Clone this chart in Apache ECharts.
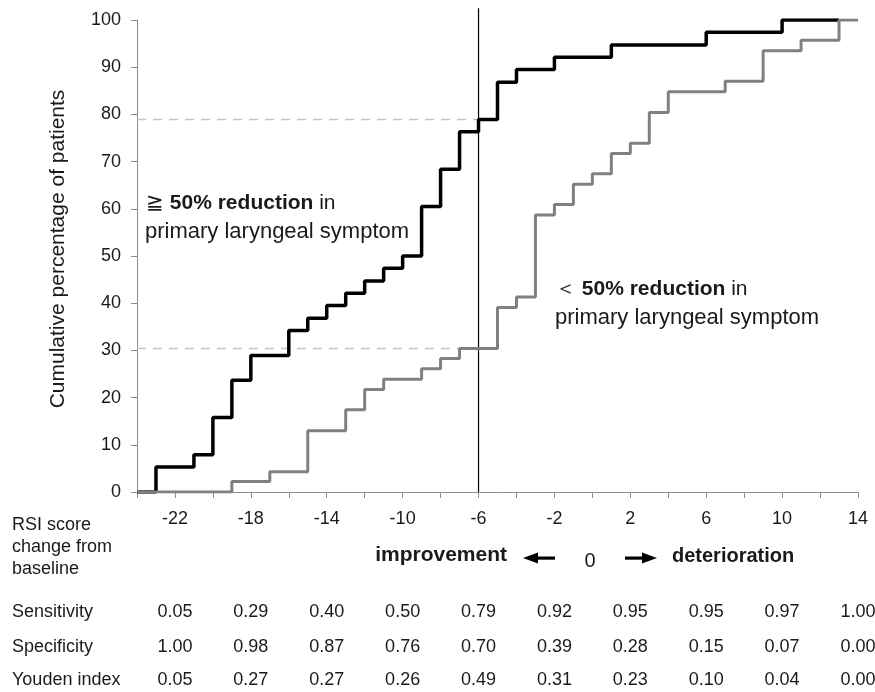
<!DOCTYPE html>
<html>
<head>
<meta charset="utf-8">
<script src="https://cdn.jsdelivr.net/npm/echarts@6/dist/echarts.min.js"></script>
<style>
html,body{margin:0;padding:0;background:#fff}
#main{width:875px;height:692px}
</style>
</head>
<body>
<div id="main"></div>
<script>
// cumulative % of patients, step points [RSI change, %]
const reductionSteps = [[-24,0],[-23,5.3],[-21,7.9],[-20,15.8],[-19,23.7],[-18,28.9],[-16,34.2],[-15,36.8],[-14,39.5],[-13,42.1],[-12,44.7],[-11,47.4],[-10,50],[-9,60.5],[-8,68.4],[-7,76.3],[-6,78.9],[-5,86.8],[-4,89.5],[-2,92.1],[1,94.7],[6,97.4],[10,100],[13,100]];
const noReductionSteps = [[-24,0],[-19,2.2],[-17,4.3],[-15,13],[-13,17.4],[-12,21.7],[-11,23.9],[-9,26.1],[-8,28.3],[-7,30.4],[-5,39.1],[-4,41.3],[-3,58.7],[-2,60.9],[-1,65.2],[0,67.4],[1,71.7],[2,73.9],[3,80.4],[4,84.8],[7,87],[9,93.5],[11,95.7],[13,100],[14,100]];
const cutoff = -6;
const cutoffHigh = 78.9;
const cutoffLow = 30.4;
const xLabels = [-22,-18,-14,-10,-6,-2,2,6,10,14];
const sensitivity = ['0.05','0.29','0.40','0.50','0.79','0.92','0.95','0.95','0.97','1.00'];
const specificity = ['1.00','0.98','0.87','0.76','0.70','0.39','0.28','0.15','0.07','0.00'];
const youden = ['0.05','0.27','0.27','0.26','0.49','0.31','0.23','0.10','0.04','0.00'];

const FONT = '"Liberation Sans", Arial, sans-serif';
const TXT = '#1a1a1a';
let chart = echarts.init(document.getElementById('main'));

let option = {
    backgroundColor: '#fff',
    animation: false,
    grid: {left: 137, right: 17, top: 20, bottom: 200},
    xAxis: {
        type: 'value', min: -24, max: 14, interval: 2,
        splitLine: {show: false},
        axisLine: {onZero: false, lineStyle: {color: '#8c8c8c', width: 1}},
        axisTick: {length: 6, lineStyle: {color: '#8c8c8c'}},
        axisLabel: {
            margin: 18, fontSize: 18, color: TXT, fontFamily: FONT,
            formatter: v => xLabels.indexOf(v) >= 0 ? String(v) : ''
        }
    },
    yAxis: {
        type: 'value', min: 0, max: 100, interval: 10,
        splitLine: {show: false},
        axisLine: {show: true, onZero: false, lineStyle: {color: '#8c8c8c', width: 1}},
        axisTick: {show: true, length: 6, lineStyle: {color: '#8c8c8c'}},
        axisLabel: {margin: 16, fontSize: 18, color: TXT, fontFamily: FONT}
    },
    series: [
        {
            type: 'line', data: [[-24, cutoffHigh], [cutoff, cutoffHigh]], symbol: 'none', silent: true,
            lineStyle: {color: '#c4c4c4', width: 1.5, type: [9, 7]}
        },
        {
            type: 'line', data: [[-24, cutoffLow], [cutoff, cutoffLow]], symbol: 'none', silent: true,
            lineStyle: {color: '#c4c4c4', width: 1.5, type: [9, 7]}
        },
        {
            type: 'line', data: [[cutoff, 0], [cutoff, 102.5]], symbol: 'none', clip: false, silent: true,
            lineStyle: {color: '#000', width: 1.2}
        },
        {
            name: 'reduction', type: 'line', step: 'end', data: reductionSteps, symbol: 'none',
            lineStyle: {color: '#000', width: 3.5}
        },
        {
            name: 'no reduction', type: 'line', step: 'end', data: noReductionSteps, symbol: 'none',
            lineStyle: {color: '#808080', width: 3}
        }
    ]
};
chart.setOption(option);

function txt(x, y, text, opt){
    return {
        type: 'text', x: x, y: y, silent: true,
        style: Object.assign({text: text, fill: TXT, font: '18px ' + FONT, align: 'left', verticalAlign: 'middle'}, opt || {})
    };
}

let g = [];
// y axis title
g.push({
    type: 'text', x: 58, y: 249, rotation: Math.PI / 2, silent: true,
    style: {text: 'Cumulative percentage of patients', fill: TXT, font: '21px ' + FONT, align: 'center', verticalAlign: 'middle'}
});
// annotations
let rich = {
    b: {fontFamily: FONT, fontSize: 21, fontWeight: 'bold', fill: TXT},
    n: {fontFamily: FONT, fontSize: 21, fill: TXT}
};
g.push(txt(146, 203, '{n|≧ }{b|50% reduction}{n| in}', {rich: rich, font: '21px ' + FONT}));
g.push(txt(145, 232, 'primary laryngeal symptom', {font: '22px ' + FONT}));
g.push(txt(555, 289, '{n|＜ }{b|50% reduction}{n| in}', {rich: rich, font: '21px ' + FONT}));
g.push(txt(555, 318, 'primary laryngeal symptom', {font: '22px ' + FONT}));

// table rows
g.push(txt(12, 525, 'RSI score'));
g.push(txt(12, 547, 'change from'));
g.push(txt(12, 569, 'baseline'));
g.push(txt(12, 612, 'Sensitivity'));
g.push(txt(12, 647, 'Specificity'));
g.push(txt(12, 680, 'Youden index'));
xLabels.forEach(function(v, i){
    let px = chart.convertToPixel({xAxisIndex: 0}, v);
    g.push(txt(px, 612, sensitivity[i], {align: 'center'}));
    g.push(txt(px, 647, specificity[i], {align: 'center'}));
    g.push(txt(px, 680, youden[i], {align: 'center'}));
});

// improvement <- 0 -> deterioration
g.push(txt(507, 555, 'improvement', {align: 'right', font: 'bold 21px ' + FONT}));
g.push(txt(590, 561, '0', {align: 'center', font: '20px ' + FONT}));
g.push(txt(672, 556, 'deterioration', {font: 'bold 20px ' + FONT}));
g.push({type: 'polygon', silent: true, shape: {points: [[523, 558], [538, 552.5], [538, 563.5]]}, style: {fill: '#000'}});
g.push({type: 'rect', silent: true, shape: {x: 536, y: 556.5, width: 19, height: 3.2}, style: {fill: '#000'}});
g.push({type: 'rect', silent: true, shape: {x: 625, y: 556.5, width: 19, height: 3.2}, style: {fill: '#000'}});
g.push({type: 'polygon', silent: true, shape: {points: [[657, 558], [642, 552.5], [642, 563.5]]}, style: {fill: '#000'}});

chart.setOption({graphic: g});
window.addEventListener('resize', () => chart.resize());
</script>
</body>
</html>
